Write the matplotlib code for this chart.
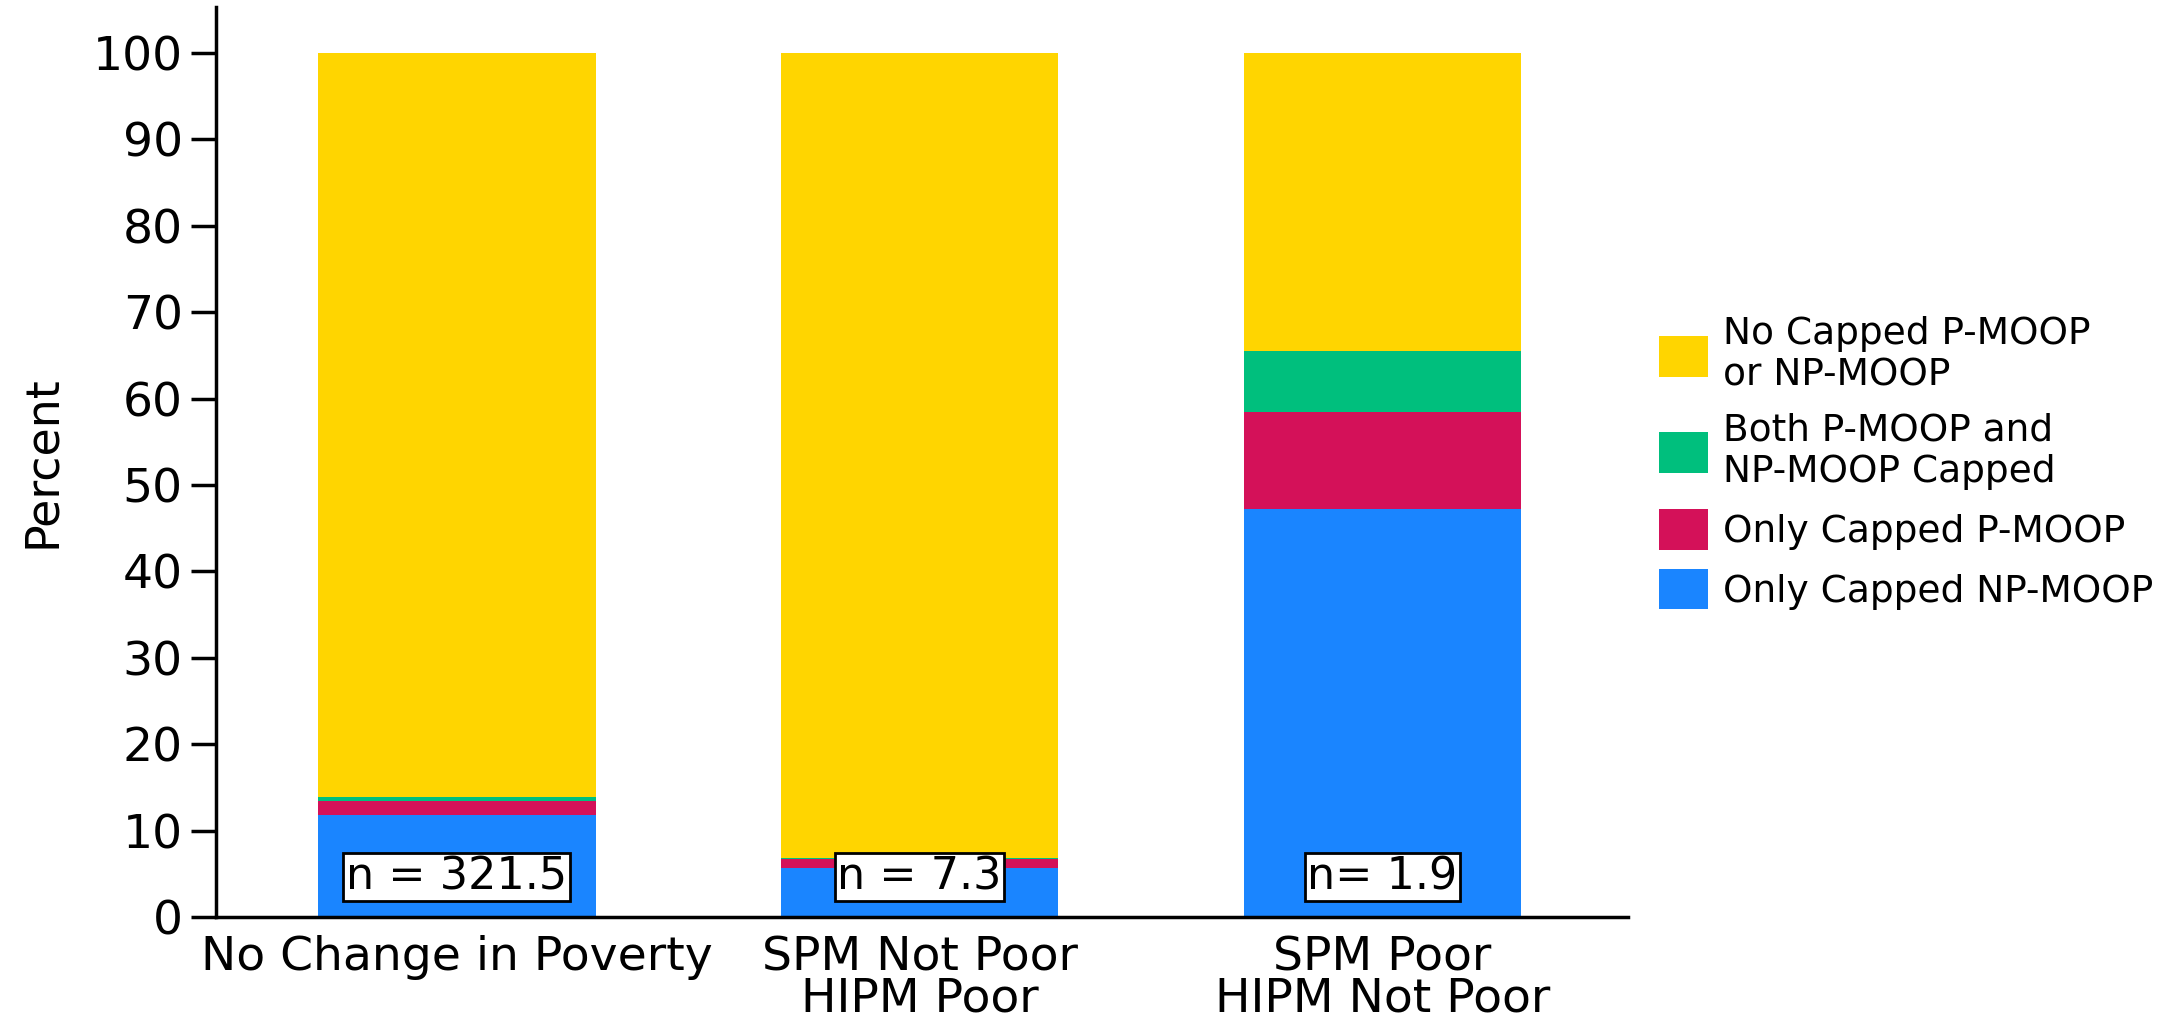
import matplotlib
matplotlib.use("Agg")
import matplotlib.pyplot as plt
import numpy as np

categories = ["No Change in Poverty", "SPM Not Poor\nHIPM Poor", "SPM Poor\nHIPM Not Poor"]
only_np = [11.8, 5.7, 47.2]
only_p = [1.6, 1.0, 11.2]
both = [0.45, 0.1, 7.1]
none_capped = [86.15, 93.2, 34.5]
n_labels = ["n = 321.5", "n = 7.3", "n= 1.9"]

series = [
    ("Only Capped NP-MOOP", only_np, "#1A85FF"),
    ("Only Capped P-MOOP", only_p, "#D41159"),
    ("Both P-MOOP and\nNP-MOOP Capped", both, "#00BF7D"),
    ("No Capped P-MOOP\nor NP-MOOP", none_capped, "#FFD500"),
]

fig = plt.figure(figsize=(21.82, 10.24), dpi=100)
ax = fig.add_axes([0.099, 0.1045, 0.647, 0.8885])

x = np.arange(len(categories))
bottom = np.zeros(len(categories))
handles = []
for label, vals, color in series:
    h = ax.bar(x, vals, width=0.6, bottom=bottom, color=color, label=label, linewidth=0)
    handles.append(h)
    bottom += np.array(vals)

for xi, t in zip(x, n_labels):
    ax.text(xi, 4.6, t, ha="center", va="center", fontsize=32,
            bbox=dict(boxstyle="square,pad=0.06", facecolor="white", edgecolor="black", linewidth=2))

ax.set_xlim(-0.52, 2.53)
ax.set_ylim(0, 105.3)
ax.set_yticks(np.arange(0, 101, 10))
ax.set_xticks(x)
ax.set_xticklabels(categories, fontsize=34, linespacing=0.9)
ax.tick_params(axis="y", labelsize=34, length=18, width=2.5, pad=6)
ax.tick_params(axis="x", length=0, pad=13)
ax.set_ylabel("Percent", fontsize=33, labelpad=20)
for s in ["top", "right"]:
    ax.spines[s].set_visible(False)
for s in ["left", "bottom"]:
    ax.spines[s].set_linewidth(2.5)

fig.legend(handles[::-1], [s[0] for s in series][::-1], loc="center left",
           bbox_to_anchor=(0.745, 0.548), frameon=False,
           handlelength=1.3, handleheight=1.3, handletextpad=0.4, labelspacing=0.5,
           prop={"size": 27})

fig.savefig("out.png", dpi=100)
